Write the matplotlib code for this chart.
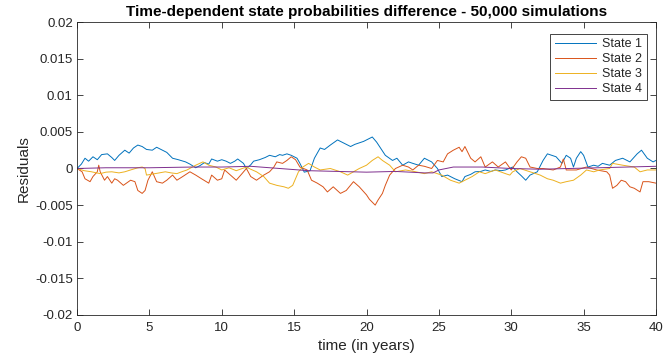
import matplotlib
matplotlib.use("Agg")
import matplotlib.pyplot as plt
import numpy as np

plt.rcParams['font.family'] = ['Liberation Sans', 'DejaVu Sans']

# ---- data (residuals) ----
t1 = [0, 0.3, 0.55, 0.8, 1.1, 1.4, 1.7, 2.1, 2.4, 2.6, 2.9, 3.3, 3.6, 3.9, 4.2, 4.5, 4.8, 5.2, 5.5, 5.9,
      6.2, 6.6, 7.0, 7.5, 7.8, 8.2, 8.5, 8.8, 9.1, 9.3, 9.7, 10.0, 10.3, 10.6, 10.9, 11.1, 11.5, 11.7, 12.0, 12.2,
      12.6, 13.0, 13.3, 13.7, 14.0, 14.2, 14.5, 14.8, 15.2, 15.4, 15.7, 16.1, 16.4, 16.8, 17.1, 17.5, 18.0, 18.4, 18.9, 19.2,
      19.5, 19.8, 20.0, 20.4, 20.7, 20.9, 21.3, 21.8, 22.1, 22.5, 22.9, 23.2, 23.6, 24.0, 24.5, 24.9, 25.2, 25.6, 26.1, 26.6,
      26.8, 27.2, 27.5, 27.9, 28.2, 28.6, 28.9, 29.3, 29.6, 30.1, 30.4, 30.7, 31.0, 31.3, 31.8, 32.2, 32.5, 32.8, 33.1, 33.5,
      33.8, 34.1, 34.3, 34.5, 34.8, 35.0, 35.3, 35.7, 36.0, 36.3, 36.8, 37.2, 37.7, 38.2, 38.7, 39.0, 39.4, 39.8, 40.0]
state1 = [0.0, 0.0006, 0.0014, 0.0010, 0.0016, 0.0012, 0.0019, 0.0020, 0.0015, 0.0011, 0.0018, 0.0025, 0.0021, 0.0028, 0.0032, 0.0030, 0.0026, 0.0025, 0.0029, 0.0025,
          0.0022, 0.0014, 0.0012, 0.0009, 0.0006, 0.0001, 0.0004, 0.0008, 0.0006, 0.0013, 0.0010, 0.0012, 0.0010, 0.0007, 0.0010, 0.0013, 0.0007, 0.0000, 0.0005, 0.0010,
          0.0012, 0.0015, 0.0018, 0.0016, 0.0019, 0.0018, 0.0020, 0.0018, 0.0014, 0.0007, -0.0005, -0.0003, 0.0014, 0.0028, 0.0026, 0.0032, 0.0039, 0.0035, 0.0030, 0.0033,
          0.0035, 0.0037, 0.0039, 0.0043, 0.0036, 0.0030, 0.0018, 0.0011, 0.0014, 0.00045, 0.0009, 0.0007, 0.00045, 0.0014, 0.0009, 0.0000, -0.0011, -0.0009, -0.0014, -0.0018,
          -0.0011, -0.0008, -0.00045, -0.0004, -0.0002, -0.0004, -0.0002, -0.0003, -0.0002, 0.0002, -0.00045, -0.0010, -0.0016, -0.0009, -0.00045, 0.0011, 0.0020, 0.0018, 0.0016, 0.0007,
          0.0018, 0.0014, 0.0002, 0.0014, 0.0023, 0.0018, 0.0002, 0.00045, 0.0003, 0.0007, 0.00045, 0.0011, 0.0014, 0.0009, 0.0020, 0.0025, 0.0014, 0.0009, 0.0011]

t2 = [0, 0.35, 0.55, 0.9, 1.1, 1.4, 1.5, 1.6, 1.9, 2.1, 2.4, 2.6, 2.8, 3.2, 3.7, 4.0, 4.2, 4.5, 4.7, 4.9,
      5.2, 5.5, 5.9, 6.2, 6.6, 6.9, 7.3, 7.8, 8.2, 8.6, 9.1, 9.3, 9.7, 10.0, 10.2, 10.6, 11.0, 11.4, 11.7, 12.0,
      12.4, 12.9, 13.3, 13.6, 13.8, 14.2, 14.5, 14.8, 15.1, 15.4, 15.9, 16.2, 16.6, 17.0, 17.3, 17.7, 18.2, 18.6, 19.1, 19.5,
      20.0, 20.2, 20.6, 20.8, 21.1, 21.3, 21.6, 22.0, 22.5, 22.9, 23.2, 23.6, 24.0, 24.5, 24.9, 25.3, 25.6, 26.0, 26.4, 26.6,
      26.8, 27.2, 27.5, 27.9, 28.2, 28.7, 29.1, 29.6, 30.0, 30.4, 30.7, 31.0, 31.3, 31.8, 32.2, 32.9, 33.4, 33.6, 33.8, 34.5,
      35.2, 35.9, 36.6, 36.8, 37.0, 37.3, 37.6, 37.9, 38.2, 38.5, 38.9, 39.1, 39.5, 40.0]
state2 = [0.0, -0.00045, -0.0014, -0.0018, -0.0011, -0.00045, 0.00045, -0.00045, -0.0016, -0.0011, -0.0020, -0.0014, -0.0016, -0.0023, -0.0016, -0.0018, -0.0030, -0.0034, -0.0030, -0.0016,
          -0.00045, -0.0018, -0.0020, -0.0016, -0.0009, -0.0016, -0.0011, -0.00045, -0.0009, -0.0014, -0.0020, -0.0009, -0.0016, -0.0014, -0.0002, -0.0009, -0.0016, -0.0007, 0.0000, -0.0011,
          -0.0016, -0.0009, -0.00045, 0.0002, 0.0009, 0.0007, 0.0011, 0.0016, 0.0012, 0.0002, -0.0002, -0.0016, -0.0020, -0.0025, -0.0032, -0.0025, -0.0034, -0.0030, -0.0018, -0.0025,
          -0.0036, -0.0042, -0.0050, -0.0043, -0.0034, -0.0023, -0.0009, 0.0000, 0.00045, 0.0002, -0.0002, 0.00045, 0.0003, 0.0000, 0.0011, 0.0009, 0.0020, 0.0025, 0.0029, 0.0023,
          0.0030, 0.0014, 0.0009, 0.0016, 0.0002, 0.0009, 0.0002, 0.0009, -0.0002, 0.0009, 0.0016, 0.0014, 0.0002, 0.0000, 0.0000, -0.0002, 0.0002, 0.0013, -0.0002, -0.0002,
          0.0002, -0.0002, -0.00045, -0.0009, -0.0027, -0.0023, -0.0016, -0.0018, -0.0025, -0.0027, -0.0032, -0.0018, -0.0018, -0.0020]

t3 = [0, 0.5, 1.0, 1.6, 2.0, 2.4, 2.9, 3.3, 3.7, 4.2, 4.5, 4.7, 4.8, 5.4, 6.1, 6.5, 6.9, 7.3, 7.6, 8.2,
      8.7, 9.1, 9.6, 10.0, 10.5, 11.0, 11.7, 12.0, 12.4, 12.9, 13.3, 13.8, 14.3, 14.6, 14.9, 15.3, 15.6, 16.0, 16.4, 16.8,
      17.5, 18.2, 18.7, 19.1, 19.5, 20.0, 20.4, 20.8, 21.1, 21.6, 22.0, 22.7, 23.4, 24.0, 24.5, 25.2, 25.8, 26.4, 26.8, 27.3,
      27.8, 28.2, 28.9, 29.6, 29.9, 30.1, 30.6, 31.3, 32.0, 32.5, 32.9, 33.4, 33.8, 34.3, 34.8, 35.2, 35.7, 36.1, 36.8, 37.0,
      37.7, 38.5, 38.9, 39.4, 40.0]
state3 = [0.0, -0.0003, -0.00045, -0.0007, -0.0005, -0.00045, -0.0006, -0.00045, -0.0002, 0.0001, 0.0002, 0.0000, -0.0009, -0.0007, -0.00045, -0.0006, -0.0007, -0.0004, -0.0002, 0.00045,
          0.0009, 0.00045, 0.0002, -0.0002, 0.0001, -0.0003, 0.0002, -0.0001, -0.00045, -0.0011, -0.0020, -0.0023, -0.0025, -0.0027, -0.0023, -0.00045, 0.0002, 0.0007, 0.0002, -0.0002,
          0.0000, -0.00045, -0.0009, -0.00045, 0.0000, 0.00045, 0.0011, 0.0016, 0.0011, 0.00045, -0.00045, -0.0002, -0.00045, -0.0007, -0.00045, -0.0009, -0.0016, -0.0020, -0.0016, -0.0011,
          -0.00045, -0.0007, -0.0002, -0.0007, -0.0009, -0.00045, 0.0000, -0.00045, -0.0009, -0.0014, -0.0016, -0.0020, -0.0018, -0.0016, -0.0009, -0.0002, -0.00045, -0.0002, 0.0000, 0.0007,
          0.00045, 0.0002, -0.00045, -0.0002, -0.0002]

t4 = [0, 2, 5, 8, 10, 12, 14, 16, 18, 20, 22, 24, 24.6, 25, 26, 28, 30, 32, 34, 36, 38, 40]
state4 = [0.0, 0.0001, 0.0001, 0.0002, 0.0002, 0.0003, 0.0000, -0.0003, -0.0004, -0.0005, -0.0004, -0.0006, -0.0006, -0.0002, 0.0002, 0.0002, 0.0000, -0.0001, 0.0000, 0.0001, 0.0002, 0.0003]

labels = ["State 1", "State 2", "State 3", "State 4"]
colors = ["#0072BD", "#D95319", "#EDB120", "#7E2F8E"]

xticks = [0, 5, 10, 15, 20, 25, 30, 35, 40]
yticks = [-0.02, -0.015, -0.01, -0.005, 0, 0.005, 0.01, 0.015, 0.02]
ytick_labels = ["-0.02", "-0.015", "-0.01", "-0.005", "0", "0.005", "0.01", "0.015", "0.02"]

# ---- figure ----
fig = plt.figure(figsize=(6.71, 3.59), dpi=100)
ax = fig.add_axes([0.1148, 0.1226, 0.8628, 0.8161])

ink = "#262626"
for t, s, lab, c in zip([t1, t2, t3, t4], [state1, state2, state3, state4], labels, colors):
    ax.plot(t, s, color=c, lw=0.7, label=lab)

ax.set_xlim(0, 40)
ax.set_ylim(-0.02, 0.02)
ax.set_xticks(xticks)
ax.set_yticks(yticks)
ax.set_yticklabels(ytick_labels)
ax.tick_params(direction='in', top=True, right=True, length=4, width=0.6,
               colors=ink, labelsize=9.5)
ax.tick_params(axis='x', pad=5)
ax.tick_params(axis='y', pad=3)
for sp in ax.spines.values():
    sp.set_color(ink)
    sp.set_linewidth(0.6)

ax.set_title("Time-dependent state probabilities difference - 50,000 simulations",
             fontsize=11, fontweight='bold', color='black', pad=4)
ax.set_xlabel("time (in years)", fontsize=11, color=ink, labelpad=4)
ax.set_ylabel("Residuals", fontsize=11, color=ink, labelpad=3)

leg = ax.legend(loc='upper right', bbox_to_anchor=(0.984, 0.96), borderaxespad=0,
                fontsize=9, handlelength=3.3, handletextpad=0.5, labelspacing=0.25,
                borderpad=0.35, fancybox=False, framealpha=1)
leg.get_frame().set_edgecolor(ink)
leg.get_frame().set_linewidth(0.6)
for txt in leg.get_texts():
    txt.set_color(ink)

fig.savefig("out.png", dpi=100)
